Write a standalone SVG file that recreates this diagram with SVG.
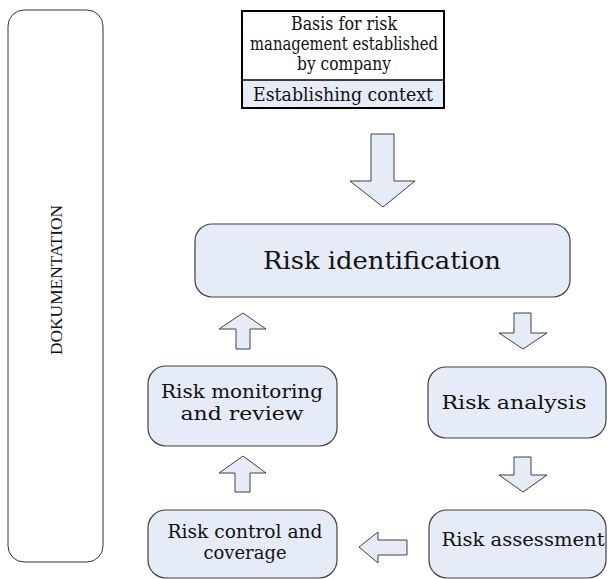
<svg xmlns="http://www.w3.org/2000/svg" width="608" height="579" viewBox="0 0 608 579">
<style>
.bg{fill:#ffffff}
.node{fill:#E6ECF7;stroke:#404040;stroke-width:1.2}
.arrow{fill:#E6ECF7;stroke:#404040;stroke-width:1}
.t{font-family:"DejaVu Serif","Liberation Serif",serif;font-size:18.5px;fill:#111;text-anchor:middle}
.big{font-size:24px}
.doc{font-family:"Liberation Serif","Times New Roman",serif;font-size:17px;fill:#111;text-anchor:middle}
</style>
<rect class="bg" x="0" y="0" width="608" height="579"/>
<g id="documentation">
<rect x="8" y="10" width="95" height="552" rx="16" ry="16" fill="#fff" stroke="#333" stroke-width="1"/>
<text class="doc" transform="translate(62,280) rotate(-90)" x="0" y="0" textLength="150" lengthAdjust="spacingAndGlyphs">DOKUMENTATION</text>
</g>
<g id="basis">
<rect x="242" y="11" width="202" height="69" fill="#fff"/>
<rect x="242" y="80" width="202" height="28" fill="#E6ECF7"/>
<rect x="242" y="11" width="202" height="97" fill="none" stroke="#000" stroke-width="2"/>
<line x1="242" y1="80" x2="444" y2="80" stroke="#000" stroke-width="1.5"/>
<text class="t" x="344" y="30" textLength="106" lengthAdjust="spacingAndGlyphs">Basis for risk</text>
<text class="t" x="344" y="50" textLength="188" lengthAdjust="spacingAndGlyphs">management established</text>
<text class="t" x="344" y="70" textLength="94" lengthAdjust="spacingAndGlyphs">by company</text>
<text class="t" x="343" y="101" textLength="180" lengthAdjust="spacingAndGlyphs">Establishing context</text>
</g>
<g id="identification">
<rect class="node" x="195" y="224" width="375" height="73" rx="17" ry="17"/>
<text class="t big" x="382" y="269" textLength="238" lengthAdjust="spacingAndGlyphs">Risk identification</text>
</g>
<g id="monitoring">
<rect class="node" x="148" y="366" width="189" height="80" rx="18" ry="18"/>
<text class="t" x="242" y="398" textLength="162" lengthAdjust="spacingAndGlyphs">Risk monitoring</text>
<text class="t" x="242" y="420" textLength="123" lengthAdjust="spacingAndGlyphs">and review</text>
</g>
<g id="analysis">
<rect class="node" x="428" y="367" width="178" height="71" rx="18" ry="18"/>
<text class="t" x="514" y="409" textLength="145" lengthAdjust="spacingAndGlyphs">Risk analysis</text>
</g>
<g id="control">
<rect class="node" x="148" y="510" width="189" height="68" rx="18" ry="18"/>
<text class="t" x="245" y="538" textLength="155" lengthAdjust="spacingAndGlyphs">Risk control and</text>
<text class="t" x="245" y="559" textLength="83" lengthAdjust="spacingAndGlyphs">coverage</text>
</g>
<g id="assessment">
<rect class="node" x="429" y="510" width="177" height="68" rx="18" ry="18"/>
<text class="t" x="523" y="546" textLength="163" lengthAdjust="spacingAndGlyphs">Risk assessment</text>
</g>
<g id="connectors">
<polygon class="arrow" points="371,134 394,134 394,181 415,181 383,207 350,181 371,181"/>
<polygon class="arrow" points="236,349 250,349 250,329 266,329 243,313 219,329 236,329"/>
<polygon class="arrow" points="514,313 531,313 531,333 547,333 523,349 499,333 514,333"/>
<polygon class="arrow" points="514,457 531,457 531,475 547,475 523,492 499,475 514,475"/>
<polygon class="arrow" points="235,492 250,492 250,473 266,473 243,456 219,473 235,473"/>
<polygon class="arrow" points="407,540 407,555 378,555 378,563 359,547 378,532 378,540"/>
</g>
</svg>
